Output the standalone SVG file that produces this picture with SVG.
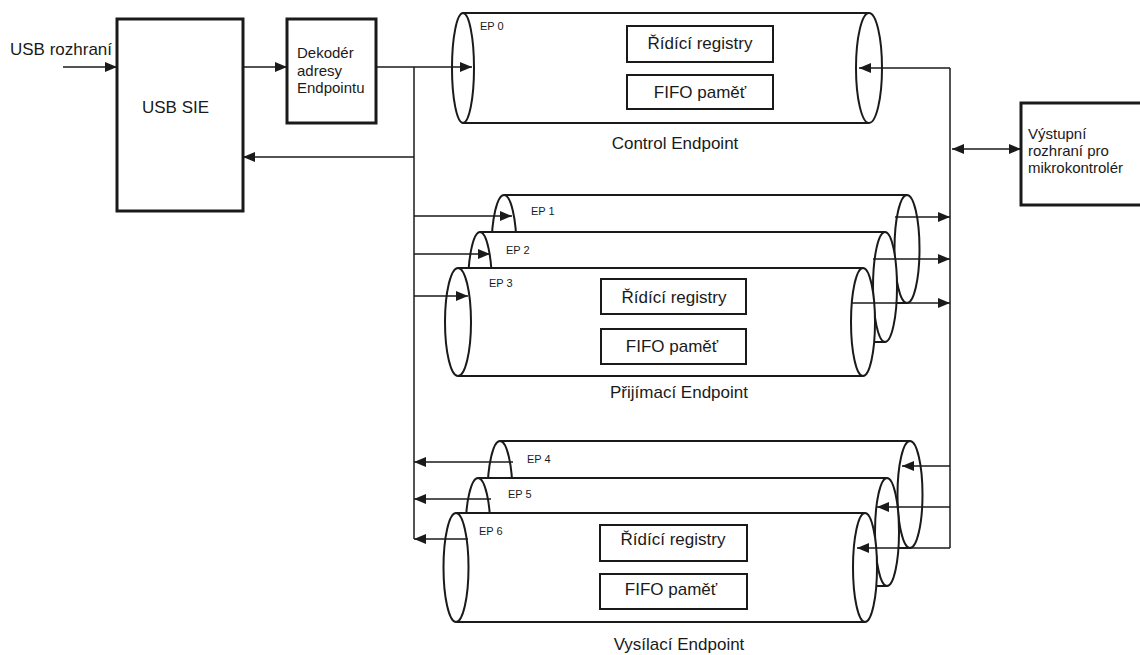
<svg xmlns="http://www.w3.org/2000/svg" width="1140" height="655" viewBox="0 0 1140 655">
<defs>
<marker id="ah" markerUnits="userSpaceOnUse" markerWidth="12" markerHeight="10" refX="12" refY="5" orient="auto-start-reverse" viewBox="0 0 12 10"><path d="M0,0 L12,5 L0,10 z" fill="#1a1a1a"/></marker>
</defs>
<style>
text{font-family:"Liberation Sans",Arial,sans-serif;fill:#1a1a1a}
.big{font-size:17px}
.mid{font-size:15px}
.ep{font-size:11px}
.box{fill:#fff;stroke:#1a1a1a;stroke-width:3}
.ib{fill:#fff;stroke:#1a1a1a;stroke-width:2}
.cb{fill:#fff;stroke:none}
.cl{fill:none;stroke:#1a1a1a;stroke-width:2}
.ce{fill:#fff;stroke:#1a1a1a;stroke-width:2}
.w{fill:none;stroke:#1a1a1a;stroke-width:1.5}
.a{marker-end:url(#ah)}
.m{text-anchor:middle}
</style>
<rect width="1140" height="655" fill="#fff"/>

<g id="usb-label"><text class="big" x="10" y="55">USB rozhraní</text></g>

<g id="usb-sie">
<rect class="box" x="117" y="19" width="126" height="192"/>
<text class="big" x="142" y="113">USB SIE</text>
</g>

<g id="dekoder">
<rect class="box" x="287" y="19" width="89" height="104"/>
<text class="mid" x="297" y="58">Dekodér</text>
<text class="mid" x="297" y="76">adresy</text>
<text class="mid" x="297" y="93">Endpointu</text>
</g>

<g id="mcu">
<rect class="box" x="1021" y="103" width="125" height="102"/>
<text class="mid" x="1028" y="139">Výstupní</text>
<text class="mid" x="1028" y="156">rozhraní pro</text>
<text class="mid" x="1028" y="173">mikrokontrolér</text>
</g>

<g id="ep0">
<rect class="cb" x="463" y="13" width="406" height="110"/>
<path class="cl" d="M463,13 H869 M463,123 H869"/>
<ellipse class="ce" cx="463" cy="68" rx="11" ry="55"/>
<ellipse class="ce" cx="869" cy="68" rx="13" ry="55"/>
<text class="ep" x="480" y="30">EP 0</text>
<rect class="ib" x="627" y="26" width="146" height="36"/>
<text class="big m" x="700" y="49">Řídící registry</text>
<rect class="ib" x="627" y="75" width="146" height="34"/>
<text class="big m" x="700" y="98">FIFO paměť</text>
<text class="big m" x="675" y="149">Control Endpoint</text>
</g>

<g id="ep1">
<rect class="cb" x="504" y="195" width="403" height="108"/>
<path class="cl" d="M504,195 H907 M504,303 H907"/>
<ellipse class="ce" cx="504" cy="249" rx="12.5" ry="54"/>
<ellipse class="ce" cx="907" cy="249" rx="12.5" ry="54"/>
<text class="ep" x="531" y="215">EP 1</text>
</g>

<g id="ep2">
<rect class="cb" x="480" y="232" width="405" height="110"/>
<path class="cl" d="M480,232 H885 M480,342 H885"/>
<ellipse class="ce" cx="480" cy="287" rx="12" ry="55"/>
<ellipse class="ce" cx="885" cy="287" rx="12" ry="55"/>
<text class="ep" x="506" y="254">EP 2</text>
</g>

<g id="ep3">
<rect class="cb" x="458" y="268" width="405" height="108"/>
<path class="cl" d="M458,268 H863 M458,376 H863"/>
<ellipse class="ce" cx="458" cy="322" rx="13" ry="54"/>
<ellipse class="ce" cx="863" cy="322" rx="12" ry="54"/>
<text class="ep" x="489" y="287">EP 3</text>
<rect class="ib" x="601" y="279" width="145" height="35"/>
<text class="big m" x="674" y="303">Řídící registry</text>
<rect class="ib" x="601" y="329" width="145" height="35"/>
<text class="big m" x="672" y="352">FIFO paměť</text>
<text class="big m" x="679" y="398">Přijímací Endpoint</text>
</g>

<g id="ep4">
<rect class="cb" x="500" y="441" width="410" height="107"/>
<path class="cl" d="M500,441 H910 M500,548 H910"/>
<ellipse class="ce" cx="500" cy="494.5" rx="12.5" ry="53.5"/>
<ellipse class="ce" cx="910" cy="494.5" rx="12.5" ry="53.5"/>
<text class="ep" x="527" y="463">EP 4</text>
</g>

<g id="ep5">
<rect class="cb" x="478" y="478" width="409" height="108"/>
<path class="cl" d="M478,478 H887 M478,586 H887"/>
<ellipse class="ce" cx="478" cy="532" rx="12.5" ry="54"/>
<ellipse class="ce" cx="887" cy="532" rx="12" ry="54"/>
<text class="ep" x="508" y="498">EP 5</text>
</g>

<g id="ep6">
<rect class="cb" x="456" y="513" width="409" height="109"/>
<path class="cl" d="M456,513 H865 M456,622 H865"/>
<ellipse class="ce" cx="456" cy="567.5" rx="12.5" ry="54.5"/>
<ellipse class="ce" cx="865" cy="567.5" rx="12" ry="54.5"/>
<text class="ep" x="479" y="535">EP 6</text>
<rect class="ib" x="600" y="525" width="147" height="36"/>
<text class="big m" x="673" y="545">Řídící registry</text>
<rect class="ib" x="600" y="574" width="147" height="35"/>
<text class="big m" x="671" y="595">FIFO paměť</text>
<text class="big m" x="679" y="650">Vysílací Endpoint</text>
</g>

<g id="connectors">
<path class="w a" d="M63,67 H117"/>
<path class="w a" d="M243,67 H287"/>
<path class="w a" d="M376,67 H472"/>
<path class="w" d="M414,67 V539"/>
<path class="w a" d="M414,157 H243"/>
<path class="w a" d="M414,216 H512"/>
<path class="w a" d="M414,254 H490"/>
<path class="w a" d="M414,296 H468"/>
<path class="w a" d="M513,462 H414"/>
<path class="w a" d="M491,499 H414"/>
<path class="w a" d="M468,539 H414"/>
<path class="w" d="M950,68 V548"/>
<path class="w a" d="M950,68 H859"/>
<path class="w a" d="M895,217 H950"/>
<path class="w a" d="M873,259 H950"/>
<path class="w a" d="M851,303 H950"/>
<path class="w a" d="M950,466 H902"/>
<path class="w a" d="M950,507 H877"/>
<path class="w a" d="M950,548 H857"/>
<path class="w a" d="M952,149 H1021" marker-start="url(#ah)"/>
</g>
</svg>
